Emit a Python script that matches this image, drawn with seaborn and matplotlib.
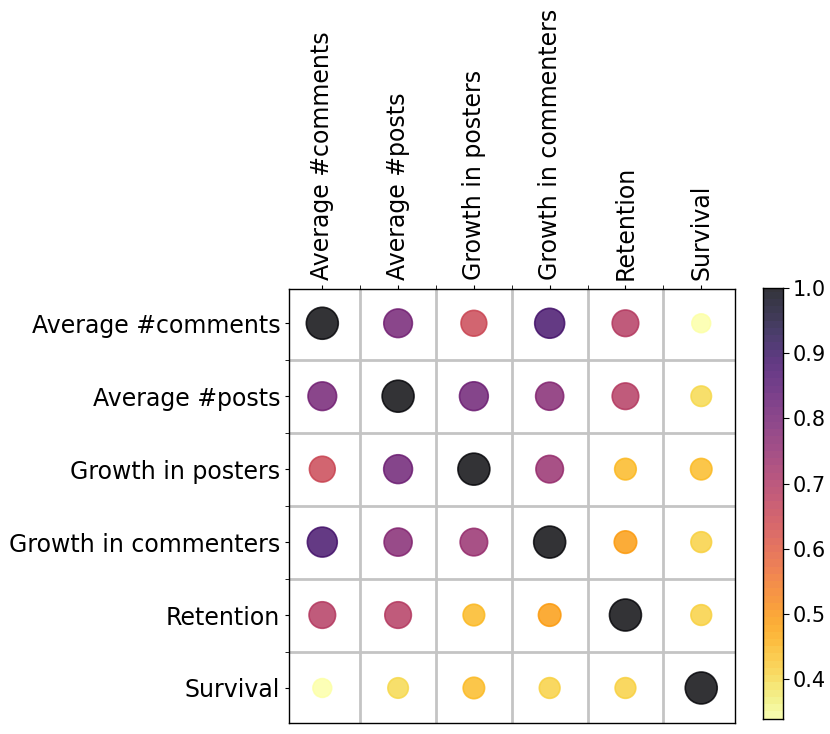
import matplotlib
matplotlib.use("Agg")
import matplotlib.pyplot as plt
import seaborn as sns
import numpy as np
import pandas as pd

names = ["Average #comments", "Average #posts", "Growth in posters",
         "Growth in commenters", "Retention", "Survival"]

# correlation values, one list per row
row_comments = [1.00, 0.80, 0.65, 0.875, 0.69, 0.345]
row_posts = [0.80, 1.00, 0.81, 0.77, 0.69, 0.41]
row_posters = [0.65, 0.81, 1.00, 0.74, 0.455, 0.45]
row_commenters = [0.875, 0.77, 0.74, 1.00, 0.495, 0.42]
row_retention = [0.69, 0.69, 0.455, 0.495, 1.00, 0.42]
row_survival = [0.345, 0.41, 0.45, 0.42, 0.42, 1.00]
rows = [row_comments, row_posts, row_posters, row_commenters, row_retention, row_survival]

cbar_ticks = [0.4, 0.5, 0.6, 0.7, 0.8, 0.9, 1.0]

recs = []
for i, r in enumerate(rows):
    for j, v in enumerate(r):
        recs.append({"x": j, "y": i, "value": v})
df = pd.DataFrame(recs)
vmin, vmax = df["value"].min(), df["value"].max()

sns.set_style("white")
plt.rcParams["text.color"] = "black"
plt.rcParams["xtick.color"] = "black"
plt.rcParams["ytick.color"] = "black"

fig = plt.figure(figsize=(8.3, 7.34), dpi=100)
ax = fig.add_axes([0.3486, 0.0150, 0.5369, 0.5913])
cax = fig.add_axes([0.919, 0.021, 0.024, 0.5866])

sns.scatterplot(data=df, x="x", y="y", hue="value", size="value",
                palette="inferno_r", hue_norm=(vmin, vmax),
                sizes=(0, 530), size_norm=(0, 1), alpha=0.8,
                edgecolor="face", legend=False, ax=ax, zorder=3)

ax.set_facecolor("white")
ax.set_xticks(range(len(names)))
ax.set_xticklabels(names, rotation=90, fontsize=17)
ax.set_yticks(range(len(names)))
ax.set_yticklabels(names, fontsize=17)
ax.xaxis.tick_top()
ax.set_xticks([t + 0.5 for t in range(len(names) - 1)], minor=True)
ax.set_yticks([t + 0.5 for t in range(len(names) - 1)], minor=True)
ax.grid(False, "major")
ax.grid(True, "minor", color="#C4C4C4", linewidth=2)
ax.tick_params(which="both", direction="out", length=3, color="black",
               left=True, top=True)
ax.set_xlim(-0.435, 5.445)
ax.set_ylim(5.48, -0.47)
ax.set_xlabel("")
ax.set_ylabel("")
for s in ax.spines.values():
    s.set_color("black")
    s.set_linewidth(1)

# colour bar drawn as thin horizontal bars
n_colors = 60
palette = sns.color_palette("inferno_r", n_colors)
col_y = np.linspace(vmin, vmax, n_colors)
step = col_y[1] - col_y[0]
cax.barh(y=col_y, width=[5] * n_colors, left=0, height=step,
         color=palette, linewidth=0, alpha=0.8)
cax.set_xlim(1, 2)
cax.set_ylim(vmin - step / 2, vmax)
cax.set_xticks([])
cax.set_yticks(cbar_ticks)
cax.yaxis.tick_right()
cax.tick_params(axis="y", labelsize=15, direction="out", length=4, left=False, right=True)
for s in cax.spines.values():
    s.set_color("black")
    s.set_linewidth(1)

plt.savefig("out.png", dpi=100)
